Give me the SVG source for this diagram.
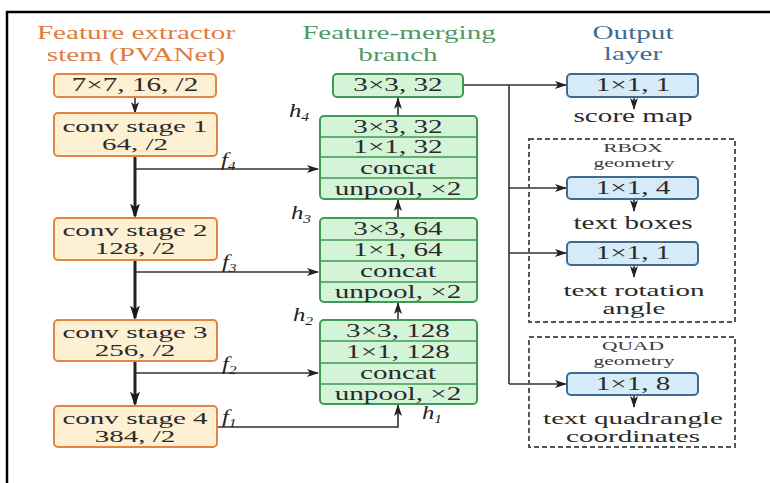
<svg xmlns="http://www.w3.org/2000/svg" width="770" height="483" viewBox="0 0 770 483">
<defs>
<style>
.t{font-family:"Liberation Serif","Times New Roman",serif;font-size:18px;fill:#2a2a2a;text-anchor:middle}
.t2{font-family:"Liberation Serif","Times New Roman",serif;font-size:17px;fill:#2a2a2a;text-anchor:middle}
.s{font-family:"Liberation Serif","Times New Roman",serif;font-size:13px;fill:#3a3a3a;text-anchor:middle}
.hd{font-family:"Liberation Serif","Times New Roman",serif;font-size:18px;text-anchor:middle}
.it{font-family:"Liberation Serif","Times New Roman",serif;font-size:19px;font-style:italic;fill:#222}
.ob{fill:#fdf0d3;stroke:#e5843f;stroke-width:2}
.gb{fill:#d4f4d8;stroke:#3f9a52;stroke-width:2}
.gl{stroke:#3f9a52;stroke-width:1.5}
.bb{fill:#d5ebf8;stroke:#3f6c8e;stroke-width:2}
.dash{fill:none;stroke:#555;stroke-width:2;stroke-dasharray:5,3}
.ln{fill:none;stroke:#333;stroke-width:1.6}
.thk{fill:none;stroke:#222;stroke-width:3}
</style>
<marker id="ah" viewBox="0 0 12 8" refX="11" refY="4" markerWidth="12" markerHeight="8" markerUnits="userSpaceOnUse" orient="auto">
<path d="M0,0 L12,4 L0,8 L3,4 z" fill="#222"/>
</marker>
<marker id="ahs" viewBox="0 0 12 8" refX="10" refY="4" markerWidth="5" markerHeight="3.5" markerUnits="strokeWidth" orient="auto">
<path d="M0,0 L12,4 L0,8 L3,4 z" fill="#1a1a1a"/>
</marker>
</defs>
<rect width="770" height="483" fill="#fff"/>
<path d="M7,483 V12 H770" fill="none" stroke="#000" stroke-width="2.5"/>

<g id="headers">
<text class="hd" fill="#e07c3e" transform="translate(136,39) scale(1.62,1)">Feature extractor</text>
<text class="hd" fill="#e07c3e" transform="translate(136,61) scale(1.62,1)">stem (PVANet)</text>
<text class="hd" fill="#4f9a62" transform="translate(399,39) scale(1.62,1)">Feature-merging</text>
<text class="hd" fill="#4f9a62" transform="translate(398,61) scale(1.62,1)">branch</text>
<text class="hd" fill="#3e6b96" transform="translate(633,39) scale(1.62,1)">Output</text>
<text class="hd" fill="#3e6b96" transform="translate(633,60) scale(1.62,1)">layer</text>
</g>

<g id="connectors">
<line class="ln" x1="135" y1="97" x2="135" y2="113" marker-end="url(#ah)"/>
<line class="thk" x1="135" y1="156" x2="135" y2="216" marker-end="url(#ahs)"/>
<line class="thk" x1="135" y1="260" x2="135" y2="318" marker-end="url(#ahs)"/>
<line class="thk" x1="135" y1="361" x2="135" y2="404" marker-end="url(#ahs)"/>
<line class="ln" x1="135" y1="169" x2="318" y2="169" marker-end="url(#ah)"/>
<line class="ln" x1="135" y1="272" x2="318" y2="272" marker-end="url(#ah)"/>
<line class="ln" x1="135" y1="373" x2="318" y2="373" marker-end="url(#ah)"/>
<polyline class="ln" points="217,427 398,427 398,405" marker-end="url(#ah)"/>
<line class="ln" x1="398" y1="320" x2="398" y2="303" marker-end="url(#ah)"/>
<line class="ln" x1="398" y1="218" x2="398" y2="200" marker-end="url(#ah)"/>
<line class="ln" x1="398" y1="116" x2="398" y2="98" marker-end="url(#ah)"/>
<line class="ln" x1="463" y1="85" x2="566" y2="85" marker-end="url(#ah)"/>
<line class="ln" x1="509" y1="85" x2="509" y2="384"/>
<line class="ln" x1="509" y1="188" x2="566" y2="188" marker-end="url(#ah)"/>
<line class="ln" x1="509" y1="253" x2="566" y2="253" marker-end="url(#ah)"/>
<line class="ln" x1="509" y1="384" x2="566" y2="384" marker-end="url(#ah)"/>
<line class="ln" x1="634" y1="97" x2="634" y2="109" marker-end="url(#ah)"/>
<line class="ln" x1="634" y1="199" x2="634" y2="211" marker-end="url(#ah)"/>
<line class="ln" x1="634" y1="265" x2="634" y2="277" marker-end="url(#ah)"/>
<line class="ln" x1="634" y1="395" x2="634" y2="407" marker-end="url(#ah)"/>
</g>

<g id="flabels">
<text class="it" transform="translate(221,166) scale(1.3,1)">f<tspan font-size="12" dy="4">4</tspan></text>
<text class="it" transform="translate(222,268) scale(1.3,1)">f<tspan font-size="12" dy="4">3</tspan></text>
<text class="it" transform="translate(222,370) scale(1.3,1)">f<tspan font-size="12" dy="4">2</tspan></text>
<text class="it" transform="translate(222,423) scale(1.3,1)">f<tspan font-size="12" dy="4">1</tspan></text>
<text class="it" transform="translate(289,117) scale(1.3,1)">h<tspan font-size="12" dy="4">4</tspan></text>
<text class="it" transform="translate(291,219) scale(1.3,1)">h<tspan font-size="12" dy="4">3</tspan></text>
<text class="it" transform="translate(293,321) scale(1.3,1)">h<tspan font-size="12" dy="4">2</tspan></text>
<text class="it" transform="translate(422,419) scale(1.3,1)">h<tspan font-size="12" dy="4">1</tspan></text>
</g>

<g id="stem">
<rect class="ob" x="54" y="74" width="162" height="23" rx="4"/>
<text class="t" transform="translate(135,91) scale(1.62,1)">7×7, 16, /2</text>
</g>
<g id="conv1">
<rect class="ob" x="54" y="113" width="163" height="43" rx="4"/>
<text class="t2" transform="translate(135,132) scale(1.71,1)">conv stage 1</text>
<text class="t2" transform="translate(135,150) scale(1.71,1)">64, /2</text>
</g>
<g id="conv2">
<rect class="ob" x="54" y="218" width="163" height="42" rx="4"/>
<text class="t2" transform="translate(135,236) scale(1.71,1)">conv stage 2</text>
<text class="t2" transform="translate(135,254) scale(1.71,1)">128, /2</text>
</g>
<g id="conv3">
<rect class="ob" x="54" y="320" width="163" height="41" rx="4"/>
<text class="t2" transform="translate(135,338) scale(1.71,1)">conv stage 3</text>
<text class="t2" transform="translate(135,356) scale(1.71,1)">256, /2</text>
</g>
<g id="conv4">
<rect class="ob" x="54" y="406" width="163" height="41" rx="4"/>
<text class="t2" transform="translate(135,424) scale(1.71,1)">conv stage 4</text>
<text class="t2" transform="translate(135,442) scale(1.71,1)">384, /2</text>
</g>

<g id="merge-top">
<rect class="gb" x="333" y="74" width="130" height="23" rx="4"/>
<text class="t" transform="translate(398,91) scale(1.62,1)">3×3, 32</text>
</g>
<g id="merge4">
<rect class="gb" x="320" y="116" width="157" height="83" rx="4"/>
<line class="gl" x1="320" y1="137" x2="477" y2="137"/>
<line class="gl" x1="320" y1="157" x2="477" y2="157"/>
<line class="gl" x1="320" y1="178" x2="477" y2="178"/>
<text class="t" transform="translate(398,133) scale(1.62,1)">3×3, 32</text>
<text class="t" transform="translate(398,153) scale(1.62,1)">1×1, 32</text>
<text class="t" transform="translate(398,174) scale(1.62,1)">concat</text>
<text class="t" transform="translate(398,195) scale(1.62,1)">unpool, ×2</text>
</g>
<g id="merge3">
<rect class="gb" x="320" y="218" width="157" height="84" rx="4"/>
<line class="gl" x1="320" y1="240" x2="477" y2="240"/>
<line class="gl" x1="320" y1="261" x2="477" y2="261"/>
<line class="gl" x1="320" y1="282" x2="477" y2="282"/>
<text class="t" transform="translate(398,235) scale(1.62,1)">3×3, 64</text>
<text class="t" transform="translate(398,256) scale(1.62,1)">1×1, 64</text>
<text class="t" transform="translate(398,277) scale(1.62,1)">concat</text>
<text class="t" transform="translate(398,298) scale(1.62,1)">unpool, ×2</text>
</g>
<g id="merge2">
<rect class="gb" x="320" y="320" width="157" height="84" rx="4"/>
<line class="gl" x1="320" y1="341" x2="477" y2="341"/>
<line class="gl" x1="320" y1="363" x2="477" y2="363"/>
<line class="gl" x1="320" y1="384" x2="477" y2="384"/>
<text class="t" transform="translate(398,337) scale(1.62,1)">3×3, 128</text>
<text class="t" transform="translate(398,358) scale(1.62,1)">1×1, 128</text>
<text class="t" transform="translate(398,379) scale(1.62,1)">concat</text>
<text class="t" transform="translate(398,400) scale(1.62,1)">unpool, ×2</text>
</g>

<g id="score">
<rect class="bb" x="567" y="74" width="131" height="23" rx="4"/>
<text class="t" transform="translate(633,91) scale(1.62,1)">1×1, 1</text>
<text class="t" transform="translate(633,122) scale(1.62,1)">score map</text>
</g>
<g id="rbox">
<rect class="dash" x="529" y="139" width="206" height="183"/>
<text class="s" transform="translate(633,152) scale(1.65,1)">RBOX</text>
<text class="s" transform="translate(634,167) scale(1.65,1)">geometry</text>
<rect class="bb" x="567" y="177" width="131" height="22" rx="4"/>
<text class="t" transform="translate(633,194) scale(1.62,1)">1×1, 4</text>
<text class="t" transform="translate(633,229) scale(1.62,1)">text boxes</text>
<rect class="bb" x="567" y="242" width="131" height="23" rx="4"/>
<text class="t2" transform="translate(634,296) scale(1.71,1)">text rotation</text>
<text class="t2" transform="translate(634,314) scale(1.71,1)">angle</text>
<text class="t" transform="translate(633,259) scale(1.62,1)">1×1, 1</text>
</g>
<g id="quad">
<rect class="dash" x="529" y="337" width="206" height="110"/>
<text class="s" transform="translate(633,350) scale(1.65,1)">QUAD</text>
<text class="s" transform="translate(634,365) scale(1.65,1)">geometry</text>
<rect class="bb" x="567" y="373" width="131" height="22" rx="4"/>
<text class="t" transform="translate(633,390) scale(1.62,1)">1×1, 8</text>
<text class="t2" transform="translate(633,424) scale(1.71,1)">text quadrangle</text>
<text class="t2" transform="translate(633,442) scale(1.71,1)">coordinates</text>
</g>
</svg>
